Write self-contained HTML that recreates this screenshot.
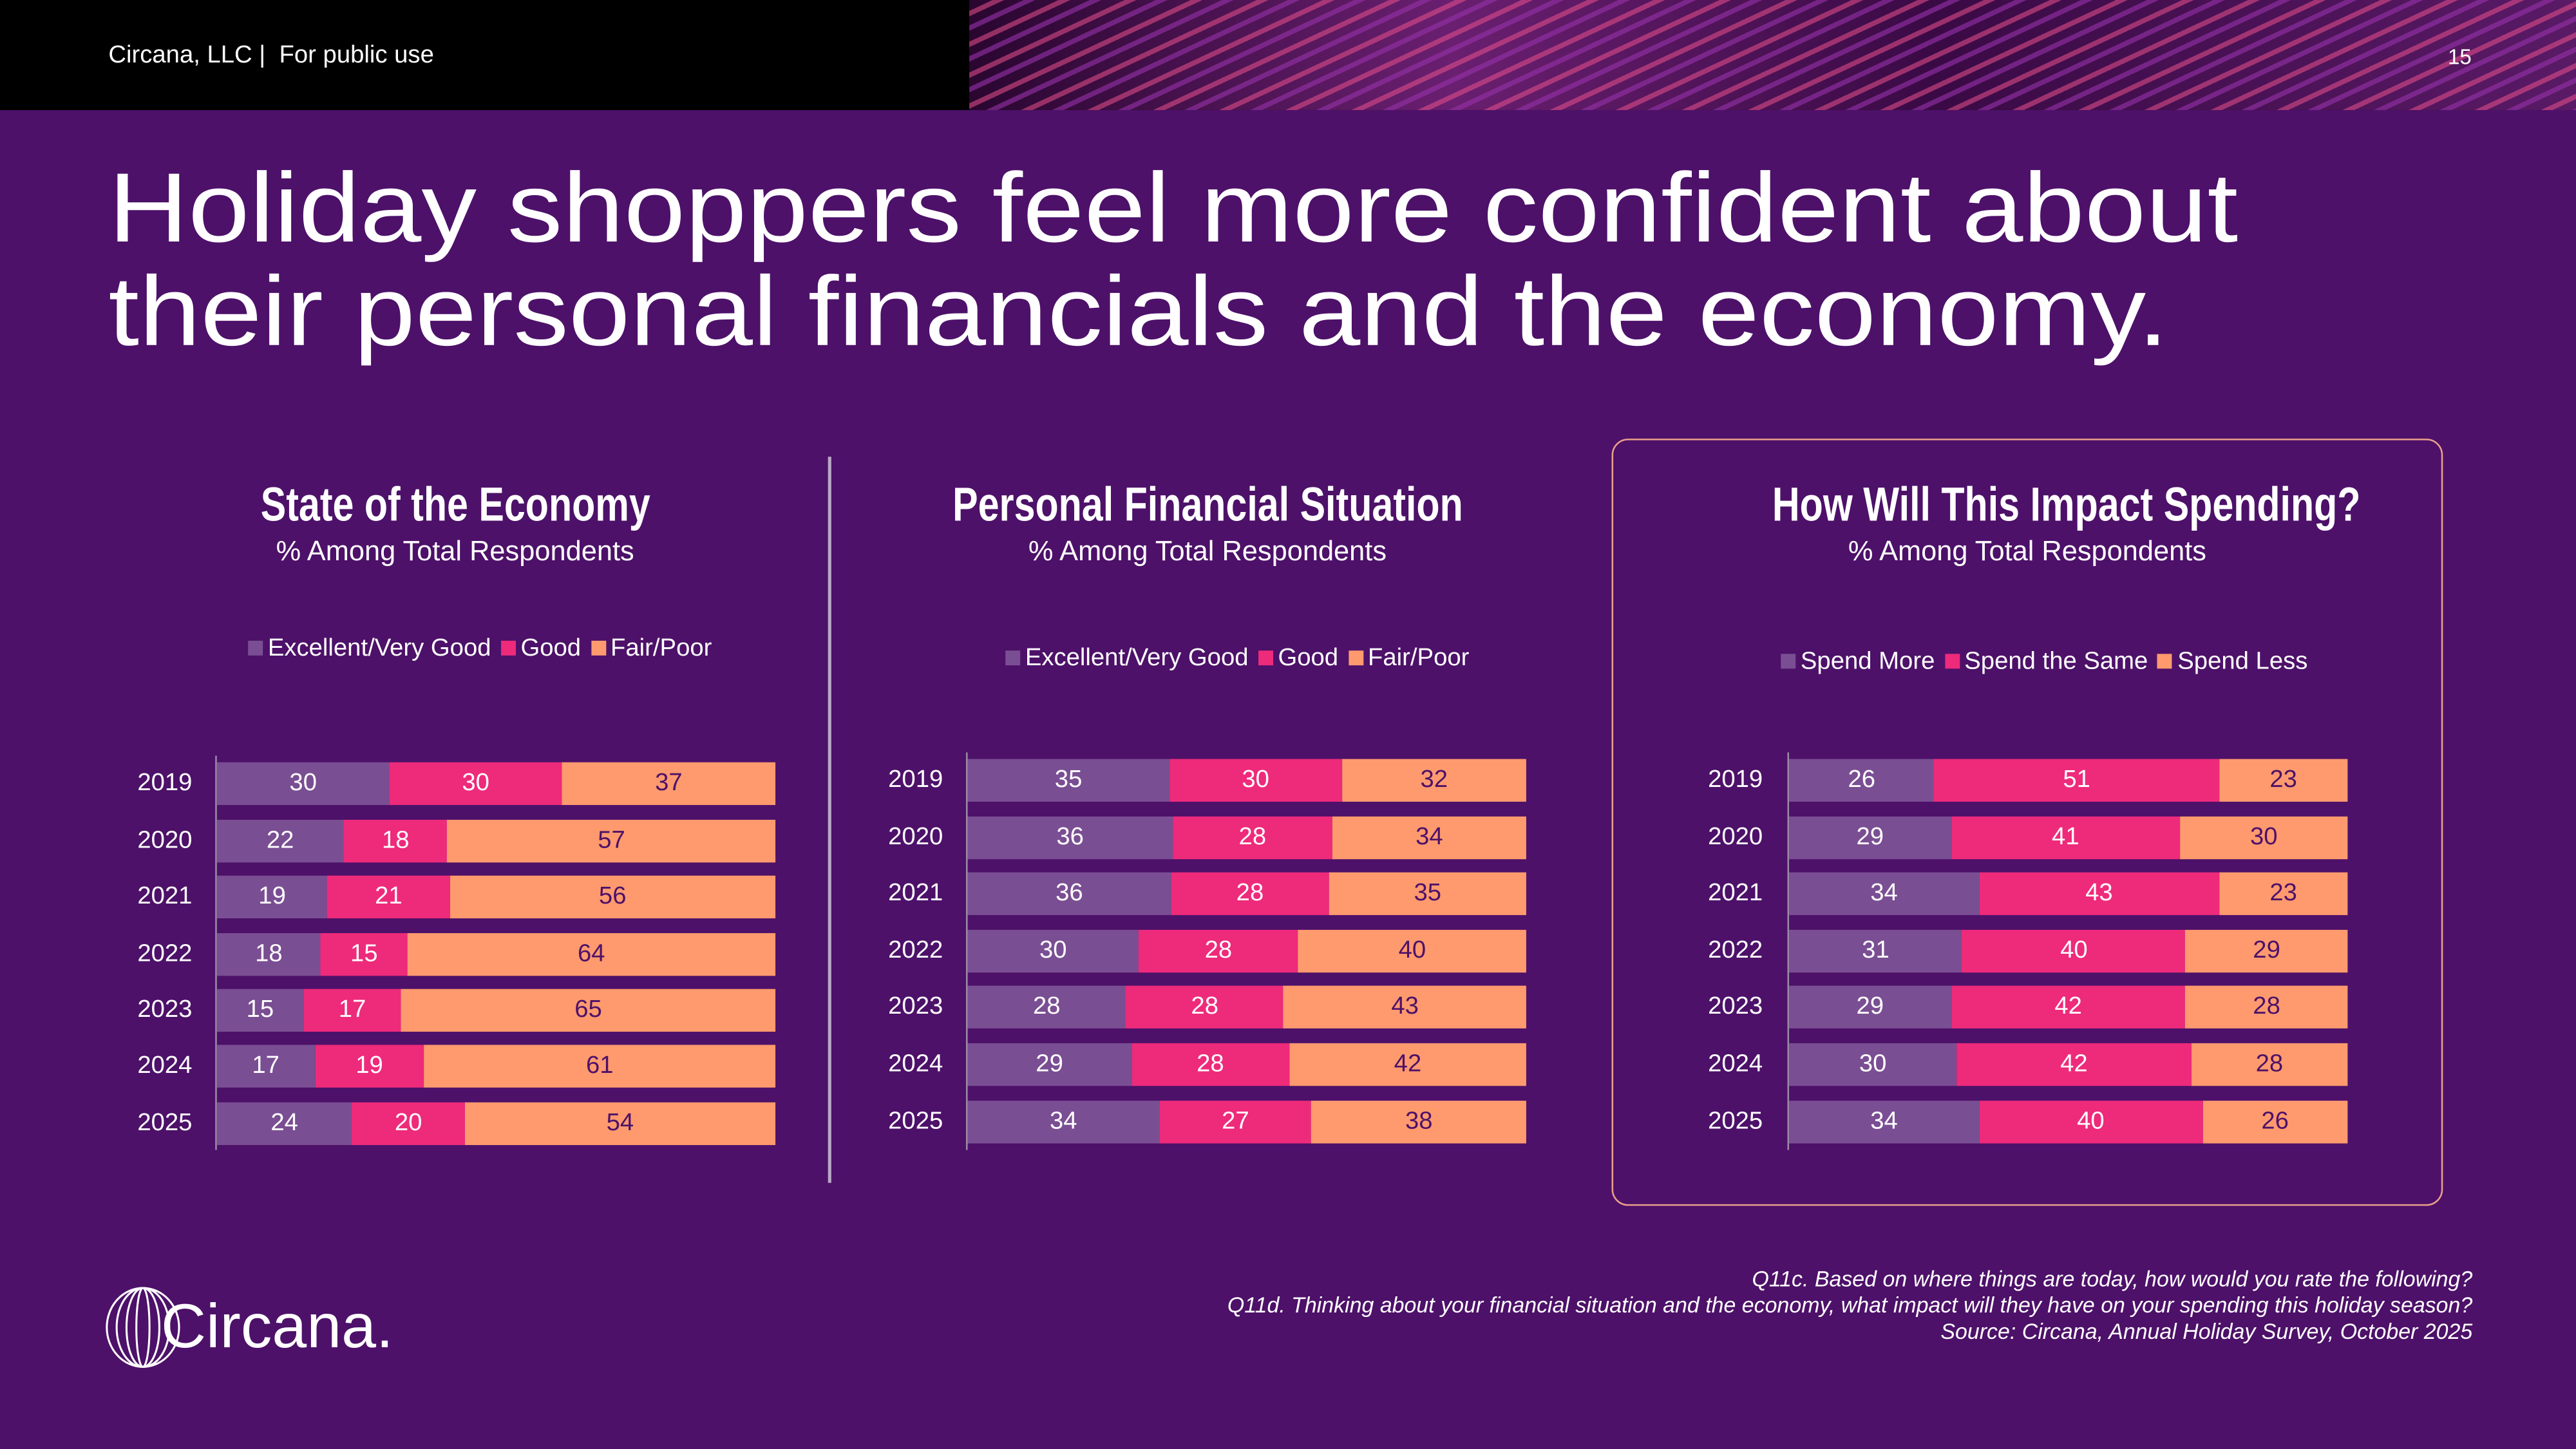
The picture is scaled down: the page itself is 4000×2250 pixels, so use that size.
<!DOCTYPE html>
<html><head><meta charset="utf-8"><style>
*{margin:0;padding:0;box-sizing:border-box}
html,body{width:4000px;height:2250px;overflow:hidden;background:#4d1169}
#s{position:absolute;left:0;top:0;width:1568px;height:882px;transform:scale(2.5510);transform-origin:0 0;background:#4d1169;font-family:"Liberation Sans",sans-serif;color:#fff}
.a{position:absolute}
.hdr{left:0;top:0;width:1568px;height:67px;background:#000}
.art{left:590px;top:0;width:978px;height:67px;background:
repeating-linear-gradient(155deg,rgba(0,0,0,0) 0 6px,rgba(233,80,140,.55) 6px 9px,rgba(0,0,0,0) 9px 14px,rgba(150,50,170,.6) 14px 17px),
linear-gradient(90deg,#2a0630,#6a1f70 30%,#3a0a45 60%,#5a1a66);}
.title{left:66px;top:95px;font-size:60px;line-height:63px;white-space:nowrap;transform:scaleX(1.12);transform-origin:0 0}
.ct{font-weight:bold;font-size:29px;text-align:center;width:400px;white-space:nowrap}
.ct span{display:inline-block;transform:scaleX(0.8)}
.cs{font-size:17px;text-align:center;width:400px}
.lg{font-size:15px;white-space:nowrap}
.lg i{display:inline-block;width:9px;height:9px;margin:0 3px 0 6px}
.row{position:absolute;height:26px;display:flex;width:340px}
.row div{height:26px;line-height:26px;text-align:center;font-size:15px}
.p{background:#7a4e93;color:#fff}.k{background:#ee2a7b;color:#fff}.o{background:#ff9a6e;color:#4d1169}
.yr{position:absolute;width:40px;text-align:right;font-size:15px;line-height:26px}
.ax{position:absolute;width:1px;background:#9a8aa6}
</style></head><body><div id="s">
<div class="a hdr"></div><div class="a art"></div>
<div class="a" style="left:66px;top:25px;font-size:15px">Circana, LLC |&nbsp; For public use</div>
<div class="a" style="left:1490px;top:27px;font-size:13px">15</div>
<div class="a title">Holiday shoppers feel more confident about<br>their personal financials and the economy.</div>

<div class="a" style="left:504px;top:278px;width:1.5px;height:442px;background:#b9a8c6"></div>
<div class="a" style="left:981px;top:267px;width:506px;height:467px;border:1.5px solid #e9a08a;border-radius:10px"></div>

<!-- chart 1 -->
<div class="a ct" style="left:77px;top:292px"><span>State of the Economy</span></div>
<div class="a cs" style="left:77px;top:326px">% Among Total Respondents</div>
<div class="a lg" style="left:145px;top:386px"><i style="background:#7a4e93"></i>Excellent/Very Good<i style="background:#ee2a7b"></i>Good<i style="background:#ff9a6e"></i>Fair/Poor</div>
<div class="ax" style="left:131px;top:460px;height:240px"></div>
<div class="yr" style="left:77px;top:464px">2019</div><div class="row" style="left:132px;top:464px"><div class="p" style="width:30.9%">30</div><div class="k" style="width:30.9%">30</div><div class="o" style="flex:1">37</div></div>
<div class="yr" style="left:77px;top:499px">2020</div><div class="row" style="left:132px;top:499px"><div class="p" style="width:22.7%">22</div><div class="k" style="width:18.6%">18</div><div class="o" style="flex:1">57</div></div>
<div class="yr" style="left:77px;top:533px">2021</div><div class="row" style="left:132px;top:533px"><div class="p" style="width:19.8%">19</div><div class="k" style="width:21.9%">21</div><div class="o" style="flex:1">56</div></div>
<div class="yr" style="left:77px;top:568px">2022</div><div class="row" style="left:132px;top:568px"><div class="p" style="width:18.6%">18</div><div class="k" style="width:15.5%">15</div><div class="o" style="flex:1">64</div></div>
<div class="yr" style="left:77px;top:602px">2023</div><div class="row" style="left:132px;top:602px"><div class="p" style="width:15.5%">15</div><div class="k" style="width:17.5%">17</div><div class="o" style="flex:1">65</div></div>
<div class="yr" style="left:77px;top:636px">2024</div><div class="row" style="left:132px;top:636px"><div class="p" style="width:17.5%">17</div><div class="k" style="width:19.6%">19</div><div class="o" style="flex:1">61</div></div>
<div class="yr" style="left:77px;top:671px">2025</div><div class="row" style="left:132px;top:671px"><div class="p" style="width:24.2%">24</div><div class="k" style="width:20.2%">20</div><div class="o" style="flex:1">54</div></div>

<!-- chart 2 -->
<div class="a ct" style="left:535px;top:292px"><span>Personal Financial Situation</span></div>
<div class="a cs" style="left:535px;top:326px">% Among Total Respondents</div>
<div class="a lg" style="left:606px;top:392px"><i style="background:#7a4e93"></i>Excellent/Very Good<i style="background:#ee2a7b"></i>Good<i style="background:#ff9a6e"></i>Fair/Poor</div>
<div class="ax" style="left:588px;top:458px;height:242px"></div>
<div class="yr" style="left:534px;top:462px">2019</div><div class="row" style="left:589px;top:462px"><div class="p" style="width:36.1%">35</div><div class="k" style="width:30.9%">30</div><div class="o" style="flex:1">32</div></div>
<div class="yr" style="left:534px;top:497px">2020</div><div class="row" style="left:589px;top:497px"><div class="p" style="width:36.7%">36</div><div class="k" style="width:28.6%">28</div><div class="o" style="flex:1">34</div></div>
<div class="yr" style="left:534px;top:531px">2021</div><div class="row" style="left:589px;top:531px"><div class="p" style="width:36.4%">36</div><div class="k" style="width:28.3%">28</div><div class="o" style="flex:1">35</div></div>
<div class="yr" style="left:534px;top:566px">2022</div><div class="row" style="left:589px;top:566px"><div class="p" style="width:30.6%">30</div><div class="k" style="width:28.6%">28</div><div class="o" style="flex:1">40</div></div>
<div class="yr" style="left:534px;top:600px">2023</div><div class="row" style="left:589px;top:600px"><div class="p" style="width:28.3%">28</div><div class="k" style="width:28.3%">28</div><div class="o" style="flex:1">43</div></div>
<div class="yr" style="left:534px;top:635px">2024</div><div class="row" style="left:589px;top:635px"><div class="p" style="width:29.3%">29</div><div class="k" style="width:28.3%">28</div><div class="o" style="flex:1">42</div></div>
<div class="yr" style="left:534px;top:670px">2025</div><div class="row" style="left:589px;top:670px"><div class="p" style="width:34.3%">34</div><div class="k" style="width:27.3%">27</div><div class="o" style="flex:1">38</div></div>

<!-- chart 3 -->
<div class="a ct" style="left:1034px;top:292px"><span>How Will This Impact Spending?</span></div>
<div class="a cs" style="left:1034px;top:326px">% Among Total Respondents</div>
<div class="a lg" style="left:1078px;top:394px"><i style="background:#7a4e93"></i>Spend More<i style="background:#ee2a7b"></i>Spend the Same<i style="background:#ff9a6e"></i>Spend Less</div>
<div class="ax" style="left:1088px;top:458px;height:242px"></div>
<div class="yr" style="left:1033px;top:462px">2019</div><div class="row" style="left:1089px;top:462px"><div class="p" style="width:26%">26</div><div class="k" style="width:51%">51</div><div class="o" style="flex:1">23</div></div>
<div class="yr" style="left:1033px;top:497px">2020</div><div class="row" style="left:1089px;top:497px"><div class="p" style="width:29%">29</div><div class="k" style="width:41%">41</div><div class="o" style="flex:1">30</div></div>
<div class="yr" style="left:1033px;top:531px">2021</div><div class="row" style="left:1089px;top:531px"><div class="p" style="width:34%">34</div><div class="k" style="width:43%">43</div><div class="o" style="flex:1">23</div></div>
<div class="yr" style="left:1033px;top:566px">2022</div><div class="row" style="left:1089px;top:566px"><div class="p" style="width:31%">31</div><div class="k" style="width:40%">40</div><div class="o" style="flex:1">29</div></div>
<div class="yr" style="left:1033px;top:600px">2023</div><div class="row" style="left:1089px;top:600px"><div class="p" style="width:29%">29</div><div class="k" style="width:42%">42</div><div class="o" style="flex:1">28</div></div>
<div class="yr" style="left:1033px;top:635px">2024</div><div class="row" style="left:1089px;top:635px"><div class="p" style="width:30%">30</div><div class="k" style="width:42%">42</div><div class="o" style="flex:1">28</div></div>
<div class="yr" style="left:1033px;top:670px">2025</div><div class="row" style="left:1089px;top:670px"><div class="p" style="width:34%">34</div><div class="k" style="width:40%">40</div><div class="o" style="flex:1">26</div></div>

<!-- footer -->
<div class="a" style="left:600px;top:771px;width:905px;text-align:right;font-style:italic;font-size:13.3px;line-height:16px">Q11c. Based on where things are today, how would you rate the following?<br>Q11d. Thinking about your financial situation and the economy, what impact will they have on your spending this holiday season?<br>Source: Circana, Annual Holiday Survey, October 2025</div>
<svg class="a" style="left:63px;top:783px" width="48" height="50" viewBox="0 0 48 50"><g fill="none" stroke="#fff" stroke-width="1.2"><ellipse cx="24" cy="25" rx="22" ry="24"/><ellipse cx="24" cy="25" rx="16" ry="24"/><ellipse cx="24" cy="25" rx="10" ry="24"/><ellipse cx="24" cy="25" rx="4" ry="24"/></g></svg>
<div class="a" style="left:98px;top:786px;font-size:38px;line-height:44px">Circana.</div>
</div></body></html>
